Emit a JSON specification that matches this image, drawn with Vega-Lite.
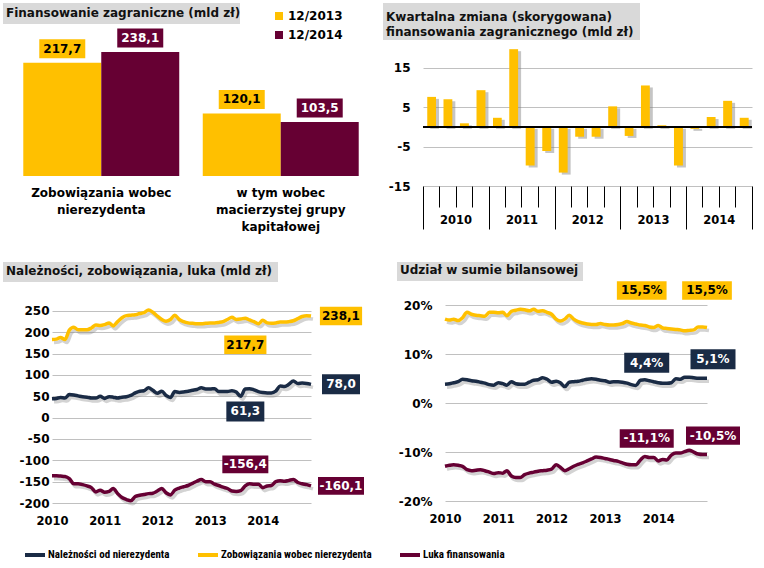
{
  "$schema": "https://vega.github.io/schema/vega-lite/v6.json",
  "padding": {"left": 3, "top": 3, "right": 4, "bottom": 4},
  "background": "white",
  "config": {
    "view": {"stroke": null},
    "font": "DejaVu Sans",
    "axis": {"labelFont": "DejaVu Sans", "labelFontWeight": "bold", "labelColor": "#000", "labelFontSize": 12, "domain": false, "ticks": false, "gridColor": "#c0c0c0", "gridWidth": 1, "labelOverlap": false},
    "title": {"anchor": "start", "frame": "group", "font": "DejaVu Sans", "fontSize": 12, "fontWeight": "bold", "color": "#111", "dx": 3, "lineHeight": 15},
    "text": {"font": "DejaVu Sans"}
  },
  "datasets": {
    "mld": [
      {"date":"2010-01-01","nal":44,"zob":183,"luka":-136},{"date":"2010-02-01","nal":45,"zob":184,"luka":-136},{"date":"2010-03-01","nal":47,"zob":188,"luka":-137},{"date":"2010-04-01","nal":46,"zob":183,"luka":-138},{"date":"2010-05-01","nal":54,"zob":205,"luka":-143},{"date":"2010-06-01","nal":53,"zob":212,"luka":-155},{"date":"2010-07-01","nal":51,"zob":206,"luka":-155},{"date":"2010-08-01","nal":49,"zob":206,"luka":-157},{"date":"2010-09-01","nal":48,"zob":206,"luka":-160},{"date":"2010-10-01","nal":46,"zob":210,"luka":-164},{"date":"2010-11-01","nal":46,"zob":217,"luka":-174},{"date":"2010-12-01","nal":50,"zob":216,"luka":-170},
      {"date":"2011-01-01","nal":45,"zob":218,"luka":-175},{"date":"2011-02-01","nal":49,"zob":222,"luka":-173},{"date":"2011-03-01","nal":48,"zob":215,"luka":-166},{"date":"2011-04-01","nal":46,"zob":225,"luka":-178},{"date":"2011-05-01","nal":48,"zob":234,"luka":-187},{"date":"2011-06-01","nal":49,"zob":239,"luka":-192},{"date":"2011-07-01","nal":52,"zob":240,"luka":-195},{"date":"2011-08-01","nal":58,"zob":241,"luka":-185},{"date":"2011-09-01","nal":62,"zob":244,"luka":-182},{"date":"2011-10-01","nal":63,"zob":246,"luka":-180},{"date":"2011-11-01","nal":70,"zob":252,"luka":-178},{"date":"2011-12-01","nal":64,"zob":247,"luka":-177},
      {"date":"2012-01-01","nal":57,"zob":238,"luka":-172},{"date":"2012-02-01","nal":62,"zob":230,"luka":-166},{"date":"2012-03-01","nal":52,"zob":226,"luka":-176},{"date":"2012-04-01","nal":47,"zob":230,"luka":-181},{"date":"2012-05-01","nal":61,"zob":240,"luka":-170},{"date":"2012-06-01","nal":59,"zob":230,"luka":-165},{"date":"2012-07-01","nal":60,"zob":225,"luka":-162},{"date":"2012-08-01","nal":62,"zob":222,"luka":-159},{"date":"2012-09-01","nal":64,"zob":221,"luka":-154},{"date":"2012-10-01","nal":66,"zob":220,"luka":-149},{"date":"2012-11-01","nal":70,"zob":220,"luka":-145},{"date":"2012-12-01","nal":67,"zob":221,"luka":-150},
      {"date":"2013-01-01","nal":67,"zob":222,"luka":-150},{"date":"2013-02-01","nal":68,"zob":222,"luka":-156},{"date":"2013-03-01","nal":61,"zob":223,"luka":-159},{"date":"2013-04-01","nal":61,"zob":225,"luka":-163},{"date":"2013-05-01","nal":61,"zob":230,"luka":-166},{"date":"2013-06-01","nal":63,"zob":235,"luka":-172},{"date":"2013-07-01","nal":60,"zob":230,"luka":-173},{"date":"2013-08-01","nal":50,"zob":231,"luka":-171},{"date":"2013-09-01","nal":67,"zob":233,"luka":-160},{"date":"2013-10-01","nal":68,"zob":229,"luka":-155},{"date":"2013-11-01","nal":65,"zob":225,"luka":-156},{"date":"2013-12-01","nal":61,"zob":220,"luka":-156},
      {"date":"2014-01-01","nal":59,"zob":228,"luka":-164},{"date":"2014-02-01","nal":58,"zob":222,"luka":-160},{"date":"2014-03-01","nal":58,"zob":221,"luka":-159},{"date":"2014-04-01","nal":62,"zob":222,"luka":-150},{"date":"2014-05-01","nal":74,"zob":224,"luka":-148},{"date":"2014-06-01","nal":73,"zob":224,"luka":-149},{"date":"2014-07-01","nal":78,"zob":225,"luka":-147},{"date":"2014-08-01","nal":86,"zob":227,"luka":-145},{"date":"2014-09-01","nal":80,"zob":232,"luka":-152},{"date":"2014-10-01","nal":81,"zob":237,"luka":-155},{"date":"2014-11-01","nal":80,"zob":239,"luka":-157},{"date":"2014-12-01","nal":78,"zob":238,"luka":-160}
    ],
    "pct": [
      {"date":"2010-01-01","nal":3.9,"zob":17.2,"luka":-12.9},{"date":"2010-02-01","nal":4.0,"zob":17.0,"luka":-12.7},{"date":"2010-03-01","nal":4.2,"zob":17.2,"luka":-12.6},{"date":"2010-04-01","nal":4.4,"zob":16.9,"luka":-12.7},{"date":"2010-05-01","nal":4.9,"zob":17.5,"luka":-12.9},{"date":"2010-06-01","nal":4.8,"zob":18.6,"luka":-13.6},{"date":"2010-07-01","nal":4.6,"zob":18.2,"luka":-13.8},{"date":"2010-08-01","nal":4.5,"zob":18.0,"luka":-13.7},{"date":"2010-09-01","nal":4.3,"zob":17.9,"luka":-13.6},{"date":"2010-10-01","nal":4.1,"zob":17.8,"luka":-13.8},{"date":"2010-11-01","nal":3.8,"zob":18.6,"luka":-14.1},{"date":"2010-12-01","nal":3.7,"zob":18.6,"luka":-14.4},
      {"date":"2011-01-01","nal":4.2,"zob":18.5,"luka":-14.2},{"date":"2011-02-01","nal":4.0,"zob":18.6,"luka":-14.3},{"date":"2011-03-01","nal":3.7,"zob":17.9,"luka":-13.8},{"date":"2011-04-01","nal":4.4,"zob":18.8,"luka":-14.9},{"date":"2011-05-01","nal":4.0,"zob":19.0,"luka":-15.2},{"date":"2011-06-01","nal":3.9,"zob":19.2,"luka":-15.2},{"date":"2011-07-01","nal":3.9,"zob":19.1,"luka":-14.6},{"date":"2011-08-01","nal":4.3,"zob":18.9,"luka":-14.3},{"date":"2011-09-01","nal":4.7,"zob":19.2,"luka":-14.1},{"date":"2011-10-01","nal":4.8,"zob":18.8,"luka":-13.9},{"date":"2011-11-01","nal":5.2,"zob":18.9,"luka":-13.8},{"date":"2011-12-01","nal":4.9,"zob":18.6,"luka":-13.7},
      {"date":"2012-01-01","nal":4.3,"zob":18.2,"luka":-13.5},{"date":"2012-02-01","nal":4.5,"zob":17.2,"luka":-12.6},{"date":"2012-03-01","nal":4.2,"zob":16.8,"luka":-13.1},{"date":"2012-04-01","nal":3.4,"zob":17.2,"luka":-13.8},{"date":"2012-05-01","nal":4.3,"zob":18.0,"luka":-13.4},{"date":"2012-06-01","nal":4.4,"zob":17.2,"luka":-12.9},{"date":"2012-07-01","nal":4.5,"zob":16.7,"luka":-12.5},{"date":"2012-08-01","nal":4.7,"zob":16.4,"luka":-12.2},{"date":"2012-09-01","nal":4.9,"zob":16.2,"luka":-11.8},{"date":"2012-10-01","nal":5.0,"zob":16.1,"luka":-11.4},{"date":"2012-11-01","nal":4.9,"zob":16.1,"luka":-11.0},{"date":"2012-12-01","nal":4.7,"zob":16.3,"luka":-11.1},
      {"date":"2013-01-01","nal":4.6,"zob":16.1,"luka":-11.3},{"date":"2013-02-01","nal":4.3,"zob":16.0,"luka":-11.5},{"date":"2013-03-01","nal":4.4,"zob":16.0,"luka":-11.7},{"date":"2013-04-01","nal":4.4,"zob":16.1,"luka":-11.9},{"date":"2013-05-01","nal":4.3,"zob":16.3,"luka":-12.2},{"date":"2013-06-01","nal":4.1,"zob":16.7,"luka":-12.5},{"date":"2013-07-01","nal":3.8,"zob":16.4,"luka":-12.6},{"date":"2013-08-01","nal":3.6,"zob":16.2,"luka":-12.6},{"date":"2013-09-01","nal":4.7,"zob":16.0,"luka":-11.6},{"date":"2013-10-01","nal":4.8,"zob":15.9,"luka":-10.9},{"date":"2013-11-01","nal":4.6,"zob":15.6,"luka":-11.1},{"date":"2013-12-01","nal":4.4,"zob":15.5,"luka":-11.1},
      {"date":"2014-01-01","nal":4.2,"zob":15.9,"luka":-11.8},{"date":"2014-02-01","nal":4.1,"zob":15.4,"luka":-11.5},{"date":"2014-03-01","nal":4.1,"zob":15.3,"luka":-11.6},{"date":"2014-04-01","nal":4.2,"zob":15.2,"luka":-10.6},{"date":"2014-05-01","nal":5.0,"zob":15.1,"luka":-10.2},{"date":"2014-06-01","nal":4.9,"zob":15.0,"luka":-10.2},{"date":"2014-07-01","nal":5.3,"zob":14.8,"luka":-9.9},{"date":"2014-08-01","nal":5.3,"zob":14.9,"luka":-9.6},{"date":"2014-09-01","nal":5.2,"zob":15.0,"luka":-10.0},{"date":"2014-10-01","nal":5.1,"zob":15.6,"luka":-10.4},{"date":"2014-11-01","nal":5.1,"zob":15.6,"luka":-10.5},{"date":"2014-12-01","nal":5.1,"zob":15.5,"luka":-10.5}
    ]
  },
  "resolve": {"scale": {"color": "independent"}, "legend": {"color": "independent"}},
  "spacing": 14,
  "vconcat": [
    {
      "hconcat": [
        {
          "spacing": 0,
          "vconcat": [
            {
              "width": 237, "height": 21,
              "view": {"fill": "#d9d9d9", "stroke": null},
              "title": {"text": "Finansowanie  zagraniczne (mld zł)", "offset": -17},
              "data": {"values": [{}]},
              "mark": {"type": "text", "text": ""}
            },
            {
              "width": 376, "height": 152,
              "data": {"values": [
                {"cat": "Zobowiązania wobec nierezydenta", "period": "12/2013", "value": 217.7},
                {"cat": "Zobowiązania wobec nierezydenta", "period": "12/2014", "value": 238.1},
                {"cat": "w tym wobec macierzystej grupy kapitałowej", "period": "12/2013", "value": 120.1},
                {"cat": "w tym wobec macierzystej grupy kapitałowej", "period": "12/2014", "value": 103.5}
              ]},
              "transform": [{"calculate": "replace(format(datum.value, '.1f'), '.', ',')", "as": "label"}],
              "encoding": {
                "x": {"field": "cat", "type": "nominal", "sort": null, "title": null,
                  "scale": {"paddingInner": 0.131, "paddingOuter": 0.113},
                  "axis": {"labelAngle": 0, "labelFontSize": 12, "labelPadding": 11, "labelLineHeight": 17, "labelBaseline": "top", "labelLimit": 0,
                    "labelExpr": "datum.value == 'Zobowiązania wobec nierezydenta' ? ['Zobowiązania wobec', 'nierezydenta'] : ['w tym wobec', 'macierzystej grupy', 'kapitałowej']"}},
                "xOffset": {"field": "period", "type": "nominal", "scale": {"paddingInner": 0, "paddingOuter": 0}},
                "y": {"field": "value", "type": "quantitative", "scale": {"domain": [0, 292], "nice": false}, "axis": null}
              },
              "layer": [
                {"mark": {"type": "bar"},
                 "encoding": {"color": {"field": "period", "type": "nominal",
                   "scale": {"domain": ["12/2013", "12/2014"], "range": ["#FFC000", "#660033"]},
                   "legend": {"orient": "none", "legendX": 270, "legendY": 7, "title": null, "symbolType": "square", "symbolSize": 64, "symbolStrokeWidth": 0, "labelFontSize": 12, "labelFontWeight": "bold", "labelFont": "DejaVu Sans", "rowPadding": 7, "labelOffset": 3, "direction": "vertical"}}}},
                {"mark": {"type": "point", "shape": "M-1,-0.413H1V0.413H-1Z", "size": 2116, "filled": true, "opacity": 1, "strokeWidth": 0, "yOffset": -14},
                 "encoding": {"color": {"field": "period", "type": "nominal"}}},
                {"mark": {"type": "text", "yOffset": -14, "fontWeight": "bold", "fontSize": 12, "baseline": "middle", "align": "center"},
                 "encoding": {"text": {"field": "label"}, "color": {"condition": {"test": "datum.period == '12/2013'", "value": "#000"}, "value": "#fff"}}}
              ]
            }
          ]
        },
        {
          "spacing": 8,
          "vconcat": [
            {
              "width": 257, "height": 37,
              "view": {"fill": "#d9d9d9", "stroke": null},
              "title": {"text": ["Kwartalna  zmiana  (skorygowana)", "finansowania  zagranicznego (mld zł)"], "offset": -36},
              "data": {"values": [{}]},
              "mark": {"type": "text", "text": ""}
            },
            {
              "spacing": 0,
              "hconcat": [
                {"width": 1, "height": 1, "data": {"values": []}, "mark": "point"},
                {
                  "width": 329, "height": 138,
                  "data": {"values": [
                    {"quarter":"2010-01-01","value":7.6},{"quarter":"2010-04-01","value":7.0},{"quarter":"2010-07-01","value":0.9},{"quarter":"2010-10-01","value":9.3},
                    {"quarter":"2011-01-01","value":2.3},{"quarter":"2011-04-01","value":19.7},{"quarter":"2011-07-01","value":-9.8},{"quarter":"2011-10-01","value":-6.1},
                    {"quarter":"2012-01-01","value":-11.6},{"quarter":"2012-04-01","value":-2.5},{"quarter":"2012-07-01","value":-2.5},{"quarter":"2012-10-01","value":5.2},
                    {"quarter":"2013-01-01","value":-2.3},{"quarter":"2013-04-01","value":10.5},{"quarter":"2013-07-01","value":0.4},{"quarter":"2013-10-01","value":-9.8},
                    {"quarter":"2014-01-01","value":-0.5},{"quarter":"2014-04-01","value":2.5},{"quarter":"2014-07-01","value":6.6},{"quarter":"2014-10-01","value":2.3}
                  ]},
                  "encoding": {
                    "x": {"field": "quarter", "type": "temporal", "timeUnit": "utcyearquarter", "title": null,
                      "scale": {"domain": [{"year": 2010, "month": 1, "date": 1, "utc": true}, {"year": 2015, "month": 1, "date": 1, "utc": true}]},
                      "axis": {
                        "values": [
                          {"year": 2010, "month": 1, "date": 1, "utc": true}, {"year": 2010, "month": 4, "date": 1, "utc": true}, {"year": 2010, "month": 7, "date": 1, "utc": true}, {"year": 2010, "month": 10, "date": 1, "utc": true},
                          {"year": 2011, "month": 1, "date": 1, "utc": true}, {"year": 2011, "month": 4, "date": 1, "utc": true}, {"year": 2011, "month": 7, "date": 1, "utc": true}, {"year": 2011, "month": 10, "date": 1, "utc": true},
                          {"year": 2012, "month": 1, "date": 1, "utc": true}, {"year": 2012, "month": 4, "date": 1, "utc": true}, {"year": 2012, "month": 7, "date": 1, "utc": true}, {"year": 2012, "month": 10, "date": 1, "utc": true},
                          {"year": 2013, "month": 1, "date": 1, "utc": true}, {"year": 2013, "month": 4, "date": 1, "utc": true}, {"year": 2013, "month": 7, "date": 1, "utc": true}, {"year": 2013, "month": 10, "date": 1, "utc": true},
                          {"year": 2014, "month": 1, "date": 1, "utc": true}, {"year": 2014, "month": 4, "date": 1, "utc": true}, {"year": 2014, "month": 7, "date": 1, "utc": true}, {"year": 2014, "month": 10, "date": 1, "utc": true},
                          {"year": 2015, "month": 1, "date": 1, "utc": true}
                        ],
                        "labelExpr": "utcmonth(datum.value) == 6 ? utcFormat(datum.value, '%Y') : ''",
                        "ticks": true, "tickColor": "#000", "tickWidth": 1,
                        "tickSize": {"condition": {"test": "utcmonth(datum.value) == 0", "value": 43}, "value": 21},
                        "labelPadding": 13, "labelBaseline": "middle", "labelFontSize": 11.5, "labelFlush": false, "grid": false}},
                    "y": {"field": "value", "type": "quantitative", "title": null,
                      "scale": {"domain": [-15, 20], "nice": false},
                      "axis": {"values": [-15, -5, 5, 15], "labelExpr": "'' + datum.value", "grid": true, "labelOverlap": false, "labelPadding": 13, "minExtent": 39, "maxExtent": 39}}
                  },
                  "layer": [
                    {"mark": {"type": "bar", "width": {"band": 0.6}, "color": "#7f7f7f", "opacity": 0.45, "xOffset": 3, "x2Offset": 3, "yOffset": 2, "y2Offset": 2}},
                    {"mark": {"type": "bar", "width": {"band": 0.6}, "color": "#FFC000"}},
                    {"mark": {"type": "rule", "color": "#000", "strokeWidth": 1}, "encoding": {"y": {"datum": 0}, "x": null}}
                  ]
                }
              ]
            }
          ]
        }
      ],
      "spacing": 4,
      "resolve": {"scale": {"x": "independent", "y": "independent"}}
    },
    {
      "hconcat": [
        {
          "spacing": 1,
          "vconcat": [
            {
              "width": 275, "height": 20,
              "view": {"fill": "#d9d9d9", "stroke": null},
              "title": {"text": "Należności,  zobowiązania,  luka (mld zł)", "offset": -16},
              "data": {"values": [{}]},
              "mark": {"type": "text", "text": ""}
            },
            {
              "spacing": 0,
              "hconcat": [
                {"width": 1, "height": 1, "data": {"values": []}, "mark": "point"},
                {
                  "width": 259, "height": 220,
                  "encoding": {
                    "x": {"field": "date", "type": "temporal", "title": null,
                      "scale": {"type": "utc", "domain": [{"year": 2010, "month": 1, "date": 1, "utc": true}, {"year": 2014, "month": 12, "date": 1, "utc": true}]},
                      "axis": {"values": [{"year": 2010, "month": 1, "date": 1, "utc": true}, {"year": 2011, "month": 1, "date": 1, "utc": true}, {"year": 2012, "month": 1, "date": 1, "utc": true}, {"year": 2013, "month": 1, "date": 1, "utc": true}, {"year": 2014, "month": 1, "date": 1, "utc": true}],
                        "labelExpr": "utcFormat(datum.value, '%Y')", "labelPadding": 12, "labelFontSize": 11.5, "labelAlign": "center", "labelFlush": false, "grid": false}},
                    "y": {"field": "value", "type": "quantitative", "title": null,
                      "scale": {"domain": [-200, 315.5], "nice": false},
                      "axis": {"values": [-200, -150, -100, -50, 0, 50, 100, 150, 200, 250], "labelExpr": "'' + datum.value", "labelOverlap": false, "grid": true, "labelPadding": 3, "minExtent": 48, "maxExtent": 48}}
                  },
                  "layer": [
                    {
                      "data": {"name": "mld"},
                      "transform": [{"fold": ["nal", "zob", "luka"], "as": ["series", "value"]}],
                      "layer": [
                        {"mark": {"type": "line", "strokeWidth": 3.5, "color": "#808080", "opacity": 0.35, "xOffset": 2, "yOffset": 3, "interpolate": "monotone"},
                         "encoding": {"detail": {"field": "series", "type": "nominal"}}},
                        {"mark": {"type": "line", "strokeWidth": 3.5, "interpolate": "monotone"},
                         "encoding": {"color": {"field": "series", "type": "nominal",
                           "scale": {"domain": ["nal", "zob", "luka"], "range": ["#1a2b45", "#FFC000", "#660033"]},
                           "legend": {"orient": "none", "legendX": 20, "legendY": 281, "direction": "horizontal", "title": null,
                             "symbolType": "stroke", "symbolSize": 400, "symbolStrokeWidth": 4, "labelFont": "Roboto Condensed, DejaVu Sans Condensed, Roboto", "labelFontSize": 11, "labelFontWeight": "bold", "columnPadding": 20, "labelOffset": 1, "labelLimit": 0,
                             "labelExpr": "datum.label == 'nal' ? 'Należności od nierezydenta' : datum.label == 'zob' ? 'Zobowiązania wobec nierezydenta' : 'Luka finansowania'"}}}}
                      ]
                    },
                    {
                      "data": {"values": [
                        {"series": "zob", "date": "2014-12-01", "value": 238.1},
                        {"series": "nal", "date": "2014-12-01", "value": 78.0},
                        {"series": "luka", "date": "2014-12-01", "value": -160.1},
                        {"series": "zob", "date": "2013-12-01", "value": 217.7},
                        {"series": "nal", "date": "2013-12-01", "value": 61.3},
                        {"series": "luka", "date": "2013-12-01", "value": -156.4}
                      ]},
                      "transform": [{"calculate": "replace(replace(format(datum.value, '.1f'), '.', ','), '\u2212', '-')", "as": "label"}],
                      "layer": [
                        {"transform": [{"filter": "utcyear(datum.date) == 2014"}],
                         "layer": [
                           {"mark": {"type": "point", "filled": true, "opacity": 1, "strokeWidth": 0, "xOffset": 30},
                            "encoding": {"color": {"field": "series", "type": "nominal"},
                              "shape": {"field": "series", "type": "nominal", "legend": null, "scale": {"domain": ["nal", "zob", "luka"], "range": ["M-1,-0.526H1V0.526H-1Z", "M-1,-0.435H1V0.435H-1Z", "M-1,-0.385H1V0.385H-1Z"]}},
                              "size": {"field": "series", "type": "ordinal", "legend": null, "scale": {"domain": ["nal", "zob", "luka"], "range": [1444, 2116, 2704]}}}},
                           {"mark": {"type": "text", "fontWeight": "bold", "fontSize": 12, "xOffset": 30, "baseline": "middle", "align": "center"},
                            "encoding": {"text": {"field": "label"}, "color": {"condition": {"test": "datum.series == 'zob'", "value": "#000"}, "value": "#fff"}}}
                         ]},
                        {"transform": [{"filter": "utcyear(datum.date) == 2013 && datum.series != 'luka'"}],
                         "layer": [
                           {"mark": {"type": "point", "filled": true, "opacity": 1, "strokeWidth": 0, "xOffset": -13, "yOffset": 20},
                            "encoding": {"color": {"field": "series", "type": "nominal"},
                              "shape": {"field": "series", "type": "nominal", "legend": null},
                              "size": {"field": "series", "type": "ordinal", "legend": null}}},
                           {"mark": {"type": "text", "fontWeight": "bold", "fontSize": 12, "xOffset": -13, "yOffset": 20, "baseline": "middle", "align": "center"},
                            "encoding": {"text": {"field": "label"}, "color": {"condition": {"test": "datum.series == 'zob'", "value": "#000"}, "value": "#fff"}}}
                         ]},
                        {"transform": [{"filter": "utcyear(datum.date) == 2013 && datum.series == 'luka'"}],
                         "layer": [
                           {"mark": {"type": "point", "filled": true, "opacity": 1, "strokeWidth": 0, "xOffset": -13, "yOffset": -20},
                            "encoding": {"color": {"field": "series", "type": "nominal"},
                              "shape": {"field": "series", "type": "nominal", "legend": null},
                              "size": {"field": "series", "type": "ordinal", "legend": null}}},
                           {"mark": {"type": "text", "fontWeight": "bold", "fontSize": 12, "xOffset": -13, "yOffset": -20, "baseline": "middle", "align": "center"},
                            "encoding": {"text": {"field": "label"}, "color": {"value": "#fff"}}}
                         ]}
                      ]
                    }
                  ]
                }
              ]
            }
          ]
        },
        {
          "spacing": 0,
          "vconcat": [
            {
              "width": 186, "height": 19,
              "view": {"fill": "#d9d9d9", "stroke": null},
              "title": {"text": "Udział  w sumie  bilansowej", "offset": -15},
              "data": {"values": [{}]},
              "mark": {"type": "text", "text": ""}
            },
            {
              "spacing": 0,
              "hconcat": [
                {"width": 1, "height": 1, "data": {"values": []}, "mark": "point"},
                {
                  "width": 262, "height": 220,
                  "encoding": {
                    "x": {"field": "date", "type": "temporal", "title": null,
                      "scale": {"type": "utc", "domain": [{"year": 2010, "month": 1, "date": 1, "utc": true}, {"year": 2014, "month": 12, "date": 1, "utc": true}]},
                      "axis": {"values": [{"year": 2010, "month": 1, "date": 1, "utc": true}, {"year": 2011, "month": 1, "date": 1, "utc": true}, {"year": 2012, "month": 1, "date": 1, "utc": true}, {"year": 2013, "month": 1, "date": 1, "utc": true}, {"year": 2014, "month": 1, "date": 1, "utc": true}],
                        "labelExpr": "utcFormat(datum.value, '%Y')", "labelPadding": 12, "labelFontSize": 11.5, "labelAlign": "center", "labelFlush": false, "grid": false}},
                    "y": {"field": "value", "type": "quantitative", "title": null,
                      "scale": {"domain": [-20, 25], "nice": false},
                      "axis": {"values": [-20, -10, 0, 10, 20], "labelExpr": "datum.value + '%'", "labelOverlap": false, "grid": true, "labelPadding": 13, "minExtent": 46, "maxExtent": 46}}
                  },
                  "layer": [
                    {
                      "data": {"name": "pct"},
                      "transform": [{"fold": ["nal", "zob", "luka"], "as": ["series", "value"]}],
                      "layer": [
                        {"mark": {"type": "line", "strokeWidth": 3.5, "color": "#808080", "opacity": 0.35, "xOffset": 2, "yOffset": 3, "interpolate": "monotone"},
                         "encoding": {"detail": {"field": "series", "type": "nominal"}}},
                        {"mark": {"type": "line", "strokeWidth": 3.5, "interpolate": "monotone"},
                         "encoding": {"color": {"field": "series", "type": "nominal"}}}
                      ]
                    },
                    {
                      "data": {"values": [
                        {"series": "zob", "date": "2014-12-01", "value": 15.5},
                        {"series": "nal", "date": "2014-12-01", "value": 5.1},
                        {"series": "luka", "date": "2014-12-01", "value": -10.5},
                        {"series": "zob", "date": "2013-12-01", "value": 15.5},
                        {"series": "nal", "date": "2013-12-01", "value": 4.4},
                        {"series": "luka", "date": "2013-12-01", "value": -11.1}
                      ]},
                      "transform": [{"calculate": "replace(replace(format(datum.value, '.1f'), '.', ','), '\u2212', '-') + '%'", "as": "label"}],
                      "layer": [
                        {"transform": [{"filter": "utcyear(datum.date) == 2013 && datum.series == 'zob'"}],
                         "layer": [
                           {"mark": {"type": "point", "filled": true, "opacity": 1, "strokeWidth": 0, "xOffset": -12, "yOffset": -37},
                            "encoding": {"color": {"field": "series", "type": "nominal"},
                              "shape": {"field": "series", "type": "nominal", "legend": null, "scale": {"domain": ["nal", "zob", "luka"], "range": ["M-1,-0.444H1V0.444H-1Z", "M-1,-0.370H1V0.370H-1Z", "M-1,-0.339H1V0.339H-1Z"]}},
                              "size": {"field": "series", "type": "ordinal", "legend": null, "scale": {"domain": ["nal", "zob", "luka"], "range": [2025, 2916, 3481]}}}},
                           {"mark": {"type": "text", "fontWeight": "bold", "fontSize": 12, "xOffset": -12, "yOffset": -37, "baseline": "middle", "align": "center"},
                            "encoding": {"text": {"field": "label"}, "color": {"value": "#000"}}}
                         ]},
                        {"transform": [{"filter": "utcyear(datum.date) == 2014 && datum.series == 'zob'"}],
                         "layer": [
                           {"mark": {"type": "point", "filled": true, "opacity": 1, "strokeWidth": 0, "xOffset": 0, "yOffset": -37},
                            "encoding": {"color": {"field": "series", "type": "nominal"},
                              "shape": {"field": "series", "type": "nominal", "legend": null},
                              "size": {"field": "series", "type": "ordinal", "legend": null}}},
                           {"mark": {"type": "text", "fontWeight": "bold", "fontSize": 12, "xOffset": 0, "yOffset": -37, "baseline": "middle", "align": "center"},
                            "encoding": {"text": {"field": "label"}, "color": {"value": "#000"}}}
                         ]},
                        {"transform": [{"filter": "utcyear(datum.date) == 2013 && datum.series != 'zob'"}],
                         "layer": [
                           {"mark": {"type": "point", "filled": true, "opacity": 1, "strokeWidth": 0, "xOffset": -7, "yOffset": -19},
                            "encoding": {"color": {"field": "series", "type": "nominal"},
                              "shape": {"field": "series", "type": "nominal", "legend": null},
                              "size": {"field": "series", "type": "ordinal", "legend": null}}},
                           {"mark": {"type": "text", "fontWeight": "bold", "fontSize": 12, "xOffset": -7, "yOffset": -19, "baseline": "middle", "align": "center"},
                            "encoding": {"text": {"field": "label"}, "color": {"value": "#fff"}}}
                         ]},
                        {"transform": [{"filter": "utcyear(datum.date) == 2014 && datum.series != 'zob'"}],
                         "layer": [
                           {"mark": {"type": "point", "filled": true, "opacity": 1, "strokeWidth": 0, "xOffset": 6, "yOffset": -19},
                            "encoding": {"color": {"field": "series", "type": "nominal"},
                              "shape": {"field": "series", "type": "nominal", "legend": null},
                              "size": {"field": "series", "type": "ordinal", "legend": null}}},
                           {"mark": {"type": "text", "fontWeight": "bold", "fontSize": 12, "xOffset": 6, "yOffset": -19, "baseline": "middle", "align": "center"},
                            "encoding": {"text": {"field": "label"}, "color": {"value": "#fff"}}}
                         ]}
                      ]
                    }
                  ]
                }
              ]
            }
          ]
        }
      ],
      "spacing": 33,
      "resolve": {"scale": {"x": "independent", "y": "independent", "size": "independent", "shape": "independent"}}
    }
  ]
}
